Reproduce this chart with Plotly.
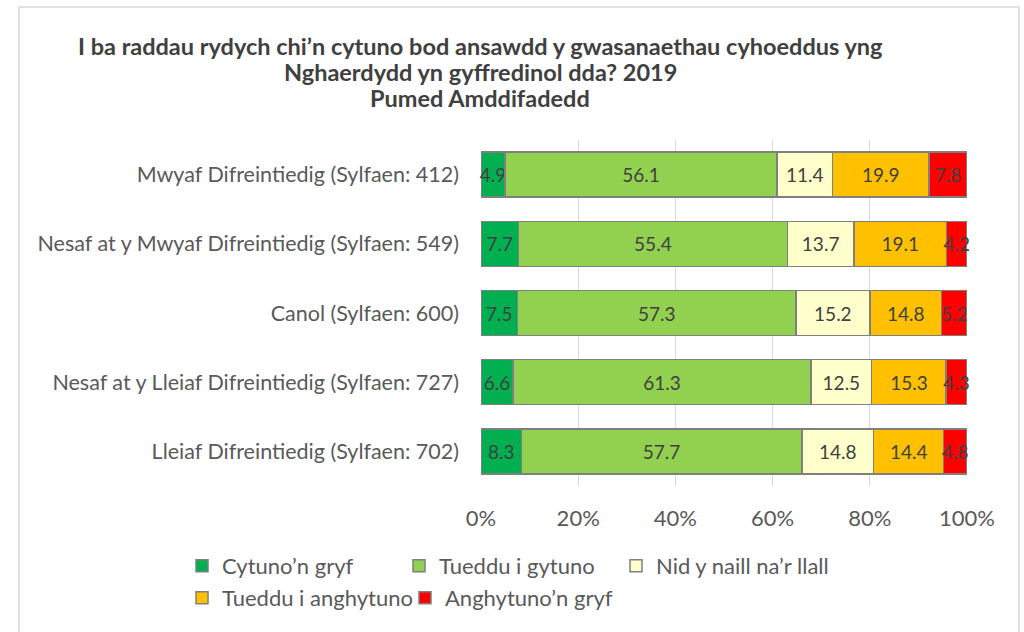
import plotly.graph_objects as go

# Pumed Amddifadedd - ansawdd gwasanaethau cyhoeddus 2019
categories = [
    "Mwyaf Difreintiedig (Sylfaen: 412)",
    "Nesaf at y Mwyaf Difreintiedig (Sylfaen: 549)",
    "Canol (Sylfaen: 600)",
    "Nesaf at y Lleiaf Difreintiedig (Sylfaen: 727)",
    "Lleiaf Difreintiedig (Sylfaen: 702)",
]
cytuno_gryf = [4.9, 7.7, 7.5, 6.6, 8.3]
tueddu_cytuno = [56.1, 55.4, 57.3, 61.3, 57.7]
nid_naill = [11.4, 13.7, 15.2, 12.5, 14.8]
tueddu_anghytuno = [19.9, 19.1, 14.8, 15.3, 14.4]
anghytuno_gryf = [7.8, 4.2, 5.2, 4.3, 4.8]

series = [
    ("Cytuno’n gryf", cytuno_gryf, "#00b050", "legend"),
    ("Tueddu i gytuno", tueddu_cytuno, "#92d050", "legend"),
    ("Nid y naill na’r llall", nid_naill, "#ffffcc", "legend"),
    ("Tueddu i anghytuno", tueddu_anghytuno, "#ffc000", "legend2"),
    ("Anghytuno’n gryf", anghytuno_gryf, "#ff0000", "legend2"),
]
title_lines = [
    "I ba raddau rydych chi’n cytuno bod ansawdd y gwasanaethau cyhoeddus yng",
    "Nghaerdydd yn gyffredinol dda? 2019",
    "Pumed Amddifadedd",
]

FONT = "Lato"
TXT = "#404040"
GREY = "#595959"

# plot area in pixels
FW, FH = 1024, 632
L, R, T, B = 481, 967, 140, 486
W, H = R - L, B - T


def px_x(x):
    return (x - L) / W


def px_y(y):
    return (B - y) / H


fig = go.Figure()
for name, vals, col, leg in series:
    fig.add_trace(go.Bar(
        y=categories, x=vals, name=name, orientation="h", legend=leg,
        marker=dict(color=col, line=dict(color="#7f7f7f", width=1.5)),
        text=[f"{v:.1f}" for v in vals],
        textposition="inside", insidetextanchor="middle", textangle=0,
        constraintext="none",
        textfont=dict(family=FONT, size=19, color=TXT),
        cliponaxis=False,
    ))

leg_common = dict(
    orientation="h", xanchor="left", yanchor="middle",
    font=dict(family=FONT, size=22, color=GREY),
    traceorder="normal", bgcolor="rgba(0,0,0,0)",
    entrywidthmode="pixels",
)

fig.update_layout(
    barmode="stack", barnorm="percent",
    bargap=0.35,
    width=FW, height=FH,
    margin=dict(l=L, r=FW - R, t=T, b=FH - B, autoexpand=False),
    paper_bgcolor="white", plot_bgcolor="white",
    font=dict(family=FONT, color=GREY),
    xaxis=dict(
        range=[0, 100], dtick=20, ticksuffix="%",
        showgrid=True, gridcolor="#d9d9d9", gridwidth=1,
        zeroline=False, showline=False,
        tickfont=dict(family=FONT, size=22, color=GREY),
        ticklen=0, ticklabelstandoff=17,
    ),
    yaxis=dict(
        autorange="reversed", showgrid=False, showline=False,
        ticks="", ticklabelstandoff=21,
        tickfont=dict(family=FONT, size=21.5, color=GREY),
    ),
    legend=dict(x=px_x(182), y=px_y(566), entrywidth=172, **leg_common),
    legend2=dict(x=px_x(182), y=px_y(598), entrywidth=178, **leg_common),
    showlegend=True,
)

for i, line in enumerate(title_lines):
    fig.add_annotation(
        text=f"<b>{line}</b>", xref="paper", yref="paper",
        x=px_x(480), y=px_y(46 + 26 * i), xanchor="center", yanchor="middle",
        showarrow=False,
        font=dict(family=FONT, size=23.5, color=TXT),
    )

# light grey chart frame
fig.add_shape(
    type="rect", xref="paper", yref="paper",
    x0=px_x(19), x1=px_x(1019), y0=px_y(660), y1=px_y(7),
    line=dict(color="#d9d9d9", width=1.5), fillcolor="rgba(0,0,0,0)",
    layer="below",
)

# drop the default body margin so the figure sits at the page origin
fig.write_html(
    "out.html",
    config={"displayModeBar": False},
    post_script="document.body.style.margin='0';document.body.style.overflow='hidden';",
)
